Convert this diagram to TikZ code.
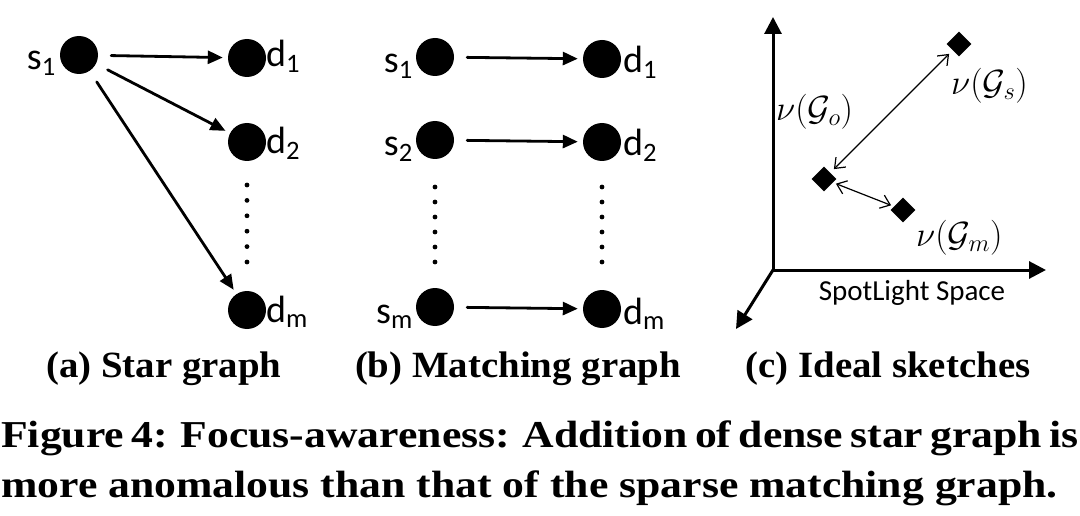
\RequirePackage{fix-cm}
\documentclass[tikz,border=0pt]{standalone}
\usepackage{fontspec}
\usetikzlibrary{arrows.meta,shapes.geometric}
\newfontfamily\lblfont{Carlito}
\newfontfamily\capfont[FakeStretch=1.15]{Liberation Serif}
\newfontfamily\subcapfont[FakeStretch=1.05]{Liberation Serif}
\tikzset{
  vtx/.style={circle,fill=black,inner sep=0pt,minimum size=38pt},
  emb/.style={diamond,fill=black,inner sep=0pt,minimum size=25pt},
  link/.style={line width=2.8pt,-{Triangle[length=15pt,width=13pt]},shorten <=13pt,shorten >=5pt},
  ax/.style={line width=3pt,-{Triangle[length=17pt,width=17pt]}},
  dist/.style={line width=1.2pt,{Straight Barb[length=9pt,width=14pt]}-{Straight Barb[length=9pt,width=14pt]},shorten <=5pt,shorten >=5pt},
  lbl/.style={font=\lblfont\fontsize{38}{40}\selectfont,inner sep=0pt},
  mlab/.style={font=\fontsize{35}{36}\selectfont,inner sep=0pt},
  subcapt/.style={font=\subcapfont\bfseries\fontsize{37}{44}\selectfont,inner sep=0pt},
  capt/.style={font=\capfont\bfseries\fontsize{38}{44}\selectfont,inner sep=0pt},
}
\begin{document}
\begin{tikzpicture}[line cap=round,line join=round,x=1pt,y=-1pt]
\useasboundingbox (0,0) rectangle (1080,516);

% (a) star graph
\node[vtx] (as1) at (79,55) {};
\node[vtx] (ad1) at (247,58) {};
\node[vtx] (ad2) at (247,142) {};
\node[vtx] (adm) at (247,310) {};

\draw[link] (as1)--(ad1);
\draw[link] (as1)--(ad2);
\draw[link] (as1)--(adm);

\foreach \k in {0,...,5} \fill (247,{185+15.4*\k}) circle (2.4pt);

\node[lbl,anchor=base east] (as1l) at (56,70) {s\textsubscript{1}};
\node[lbl,anchor=base west] (ad1l) at (266,67) {d\textsubscript{1}};
\node[lbl,anchor=base west] (ad2l) at (266,154) {d\textsubscript{2}};
\node[lbl,anchor=base west] (adml) at (266,322) {d\textsubscript{m}};

% (b) matching graph
\node[vtx] (bs1) at (435,57) {};
\node[vtx] (bs2) at (435,140) {};
\node[vtx] (bsm) at (435,307) {};
\node[vtx] (bd1) at (602,59) {};
\node[vtx] (bd2) at (602,142) {};
\node[vtx] (bdm) at (602,309) {};

\draw[link] (bs1)--(bd1);
\draw[link] (bs2)--(bd2);
\draw[link] (bsm)--(bdm);

\foreach \k in {0,...,5} {
  \fill (435,{187+15*\k}) circle (2.4pt);
  \fill (602,{187+15*\k}) circle (2.4pt);
}

\node[lbl,anchor=base east] (bs1l) at (413,73) {s\textsubscript{1}};
\node[lbl,anchor=base east] (bs2l) at (413,156) {s\textsubscript{2}};
\node[lbl,anchor=base east] (bsml) at (413,323) {s\textsubscript{m}};
\node[lbl,anchor=base west] (bd1l) at (623,73) {d\textsubscript{1}};
\node[lbl,anchor=base west] (bd2l) at (623,156) {d\textsubscript{2}};
\node[lbl,anchor=base west] (bdml) at (623,324) {d\textsubscript{m}};

% (c) ideal sketches
\coordinate (O) at (773,270);
\coordinate (Y) at (773,17);
\coordinate (X) at (1046,270);
\coordinate (Z) at (736,329);   % 斜轴

\draw[ax] (O)--(Y);
\draw[ax] (O)--(X);
\draw[ax] (O)--(Z);

\node[emb] (Gs) at (959,44) {};
\node[emb] (Go) at (824,179) {};
\node[emb] (Gm) at (903,210) {};

\draw[dist] (Go)--(Gs);
\draw[dist,shorten <=3pt,shorten >=3pt] (Go)--(Gm);

\node[mlab,anchor=west] (Gol) at (776,112) {$\nu(\mathcal{G}_o)$};
\node[mlab,anchor=west] (Gsl) at (951,86) {$\nu(\mathcal{G}_s)$};
\node[mlab,anchor=west] (Gml) at (916,238) {$\nu(\mathcal{G}_m)$};
\node[lbl,font=\lblfont\fontsize{29}{30}\selectfont] (sp) at (912,293) {SpotLight Space};

% captions
\node[subcapt,anchor=base] (capa) at (164,377) {(a) Star graph};
\node[subcapt,anchor=base] (capb) at (518,377) {(b) Matching graph};
\node[subcapt,anchor=base] (capc) at (888,377) {(c) Ideal sketches};
\node[capt,anchor=base west] (fig1) at (1,447) {\makebox[1074pt][s]{Figure 4: Focus-awareness: Addition of dense star graph is}};
\node[capt,anchor=base west] (fig2) at (1,497) {more anomalous than that of the sparse matching graph.};
\end{tikzpicture}
\end{document}
